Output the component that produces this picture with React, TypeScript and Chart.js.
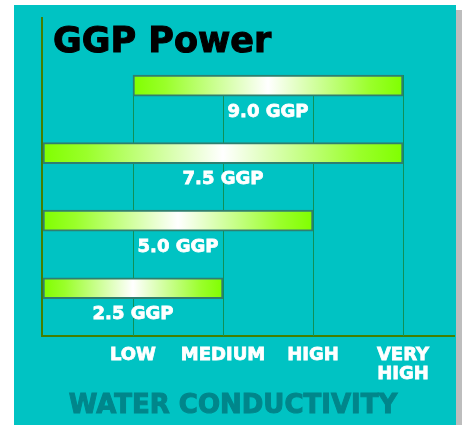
import React, { useEffect, useRef } from 'react';
import { Chart, registerables } from 'chart.js';

Chart.register(...registerables);

// ---- data ----
const chartTitle = 'GGP Power';
const axisTitle = 'WATER CONDUCTIVITY';
const barLabels = ['9.0 GGP', '7.5 GGP', '5.0 GGP', '2.5 GGP'];
const barStarts = [1, 0, 0, 0];
const barEnds = [4, 4, 3, 2];
const rowIndex = [0, 1, 2, 3];
const tickValues = [1, 2, 3, 4];
const tickLabels: (string | string[])[] = ['LOW', 'MEDIUM', 'HIGH', ['VERY', 'HIGH']];

const FONT = "'DejaVu Sans', 'Liberation Sans', sans-serif";
const TEAL = '#00C3C3';
const AXIS = '#437F00';
const GRID = '#0F9058';
const LIME = '#80FF00';

const gridPlugin = {
  id: 'partialGrid',
  beforeDatasetsDraw(chart: any) {
    const meta = chart.getDatasetMeta(0);
    const first = meta.data[0];
    if (!first) return;
    const top = first.y - first.height / 2;
    const xs = chart.scales.x;
    const ctx = chart.ctx;
    ctx.save();
    ctx.strokeStyle = GRID;
    ctx.lineWidth = 1;
    tickValues.forEach((v) => {
      const px = Math.round(xs.getPixelForValue(v)) + 0.5;
      ctx.beginPath();
      ctx.moveTo(px, top);
      ctx.lineTo(px, chart.chartArea.bottom);
      ctx.stroke();
    });
    ctx.restore();
  },
};

const labelPlugin = {
  id: 'barLabels',
  afterDatasetsDraw(chart: any) {
    const meta = chart.getDatasetMeta(0);
    const ctx = chart.ctx;
    ctx.save();
    ctx.fillStyle = '#FFFFFF';
    ctx.strokeStyle = '#FFFFFF';
    ctx.lineWidth = 0.8;
    ctx.font = `bold 18px ${FONT}`;
    ctx.textAlign = 'center';
    ctx.textBaseline = 'middle';
    meta.data.forEach((el: any, i: number) => {
      const cx = (el.x + el.base) / 2;
      const cy = el.y + el.height / 2 + 16;
      ctx.strokeText(barLabels[i], cx, cy);
      ctx.fillText(barLabels[i], cx, cy);
    });
    ctx.restore();
  },
};

export default function App() {
  const ref = useRef<HTMLCanvasElement | null>(null);

  useEffect(() => {
    if (!ref.current) return;
    const chart = new Chart(ref.current, {
      type: 'bar',
      data: {
        datasets: [
          {
            data: rowIndex.map((r, i) => ({ x: [barStarts[i], barEnds[i]], y: r })) as any,
            barThickness: 21,
            borderColor: '#2F7F70',
            borderWidth: 2,
            borderSkipped: false,
            backgroundColor: (c: any) => {
              const ch = c.chart;
              if (!ch.chartArea || c.type !== 'data' || !c.raw) return LIME;
              const xs = ch.scales.x;
              const x0 = xs.getPixelForValue(c.raw.x[0]);
              const x1 = xs.getPixelForValue(c.raw.x[1]);
              const g = ch.ctx.createLinearGradient(x0, 0, x1, 0);
              g.addColorStop(0, LIME);
              g.addColorStop(0.12, '#9AFF2A');
              g.addColorStop(0.5, '#FFFFFF');
              g.addColorStop(0.88, '#9AFF2A');
              g.addColorStop(1, LIME);
              return g;
            },
          },
        ],
      },
      options: {
        indexAxis: 'y',
        responsive: false,
        animation: false,
        layout: { padding: { left: 28, top: 13, right: 2, bottom: 32 } },
        plugins: {
          legend: { display: false },
          tooltip: { enabled: false },
          title: { display: false },
        },
        scales: {
          x: {
            type: 'linear',
            min: -0.011,
            max: 4.567,
            offset: false,
            afterBuildTicks: (s: any) => {
              s.ticks = tickValues.map((v) => ({ value: v }));
            },
            grid: { display: false, drawTicks: false },
            border: { display: true, color: AXIS, width: 2 },
            ticks: {
              color: '#FFFFFF',
              textStrokeColor: '#FFFFFF',
              textStrokeWidth: 0.8,
              padding: 9.5,
              maxRotation: 0,
              autoSkip: false,
              font: { family: FONT, size: 18, weight: 'bold', lineHeight: 1.05 },
              callback: (v: any) => tickLabels[tickValues.indexOf(Number(v))] ?? '',
            },
          },
          y: {
            type: 'linear',
            reverse: true,
            offset: false,
            min: -1,
            max: 3.71,
            grid: { display: false, drawTicks: false, offset: false },
            border: { display: true, color: AXIS, width: 2 },
            ticks: { display: false },
          },
        },
      },
      plugins: [gridPlugin, labelPlugin],
    } as any);
    return () => chart.destroy();
  }, []);

  return (
    <div
      style={{
        position: 'fixed',
        left: 0,
        top: 0,
        width: 465,
        height: 425,
        background: '#FFFFFF',
        overflow: 'hidden',
      }}
    >
      <div
        style={{
          position: 'absolute',
          left: 14,
          top: 5,
          width: 442,
          height: 420,
          background: TEAL,
          boxShadow: '6px 5px 0 #BDBDBD',
        }}
      >
        <canvas ref={ref} width={442} height={420} style={{ position: 'absolute', left: 0, top: 0 }} />
        <div
          style={{
            position: 'absolute',
            left: 39,
            top: 18,
            fontFamily: FONT,
            fontWeight: 'bold',
            fontSize: 35,
            lineHeight: 1,
            color: '#000000',
            WebkitTextStroke: '1px #000000',
            whiteSpace: 'nowrap',
          }}
        >
          {chartTitle}
        </div>
        <div
          style={{
            position: 'absolute',
            left: 219,
            top: 386,
            transform: 'translateX(-50%)',
            fontFamily: FONT,
            fontWeight: 'bold',
            fontSize: 26,
            lineHeight: 1,
            color: '#00868B',
            WebkitTextStroke: '1px #00868B',
            whiteSpace: 'nowrap',
          }}
        >
          {axisTitle}
        </div>
      </div>
    </div>
  );
}
